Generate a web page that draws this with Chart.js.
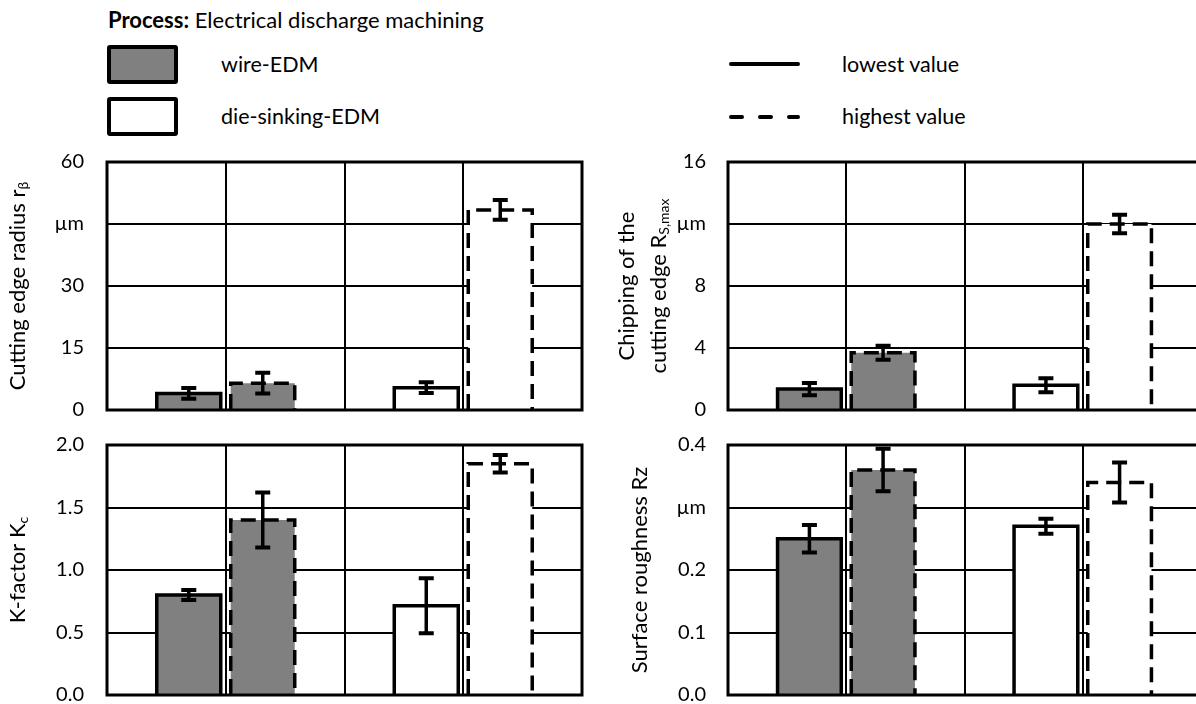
<!DOCTYPE html>
<html>
<head>
<meta charset="utf-8">
<script src="https://cdn.jsdelivr.net/npm/chart.js@4.4.0/dist/chart.umd.min.js"></script>
<style>
  html, body { margin: 0; padding: 0; background: #fff; overflow: hidden; width: 1196px; height: 704px; }
  body { position: relative; font-family: Lato, 'Open Sans', sans-serif; color: #000; }
  canvas { position: absolute; }
  .txt { position: absolute; font-size: 21.5px; line-height: 1; white-space: nowrap; transform: translateY(-50%); }
  .box { position: absolute; left: 107px; width: 63px; height: 31px; border: 4px solid #000; border-radius: 3px; }
  .swatch { position: absolute; left: 725px; }
</style>
</head>
<body>

<div class="txt" style="left:108px; top:20px; font-size:22px;"><b>Process:</b> Electrical discharge machining</div>

<div class="box" style="top:45px; background:#808080;"></div>
<div class="txt" style="left:221px; top:65px;">wire-EDM</div>
<div class="box" style="top:97px; background:#fff;"></div>
<div class="txt" style="left:221px; top:117px;">die-sinking-EDM</div>

<svg class="swatch" style="top:56px;" width="80" height="16">
  <line x1="6" y1="8" x2="73" y2="8" stroke="#000" stroke-width="4" stroke-linecap="round"/>
</svg>
<div class="txt" style="left:842px; top:65px;">lowest value</div>
<svg class="swatch" style="top:109px;" width="80" height="16">
  <line x1="6" y1="8" x2="73" y2="8" stroke="#000" stroke-width="4" stroke-linecap="round" stroke-dasharray="11 18"/>
</svg>
<div class="txt" style="left:842px; top:117px;">highest value</div>

<canvas id="radiusChart" width="600" height="290" style="left:0; top:140px;"></canvas>
<canvas id="chippingChart" width="620" height="290" style="left:600px; top:140px;"></canvas>
<canvas id="kfactorChart" width="600" height="290" style="left:0; top:425px;"></canvas>
<canvas id="roughnessChart" width="620" height="290" style="left:600px; top:425px;"></canvas>

<script>
// ---- data ----
const groups = ['wire-EDM', 'die-sinking-EDM'];
const seriesNames = ['lowest value', 'highest value'];
const groupFill = ['#808080', '#ffffff'];

// cutting edge radius r_beta (µm)
const radiusLowest = [4.0, 5.4];
const radiusHighest = [6.5, 48.4];
const radiusLowestErr = [1.3, 1.3];
const radiusHighestErr = [2.5, 2.4];
const radiusTicks = ['0', '15', '30', 'µm', '60'];

// chipping of the cutting edge R_S,max (µm)
const chippingLowest = [1.35, 1.6];
const chippingHighest = [3.7, 12.0];
const chippingLowestErr = [0.4, 0.45];
const chippingHighestErr = [0.45, 0.6];
const chippingTicks = ['0', '4', '8', 'µm', '16'];

// K-factor K_c
const kLowest = [0.80, 0.715];
const kHighest = [1.40, 1.85];
const kLowestErr = [0.04, 0.22];
const kHighestErr = [0.22, 0.07];
const kTicks = ['0.0', '0.5', '1.0', '1.5', '2.0'];

// surface roughness Rz (µm)
const rzLowest = [0.25, 0.27];
const rzHighest = [0.36, 0.34];
const rzLowestErr = [0.022, 0.012];
const rzHighestErr = [0.034, 0.032];
const rzTicks = ['0.0', '0.1', '0.2', 'µm', '0.4'];

Chart.defaults.font.family = 'Lato, "Open Sans", sans-serif';
Chart.defaults.font.size = 20;
Chart.defaults.color = '#000';

// outlines (solid / dashed), error bars, frame and y title with subscripts
const panelDeco = {
  id: 'panelDeco',
  afterDatasetsDraw(chart) {
    const ctx = chart.ctx;
    const yScale = chart.scales.y;
    chart.data.datasets.forEach((ds, di) => {
      chart.getDatasetMeta(di).data.forEach((bar, i) => {
        const p = bar.getProps(['x', 'y', 'base', 'width'], true);
        const l = p.x - p.width / 2, r = p.x + p.width / 2;
        ctx.save();
        ctx.strokeStyle = '#000';
        ctx.lineWidth = 3.5;
        ctx.setLineDash(ds.dash);
        ctx.beginPath();
        ctx.moveTo(l, p.base);
        ctx.lineTo(l, p.y);
        ctx.lineTo(r, p.y);
        ctx.lineTo(r, p.base);
        ctx.stroke();

        // error bar
        ctx.setLineDash([]);
        const v = ds.data[i], e = ds.errors[i];
        const yt = yScale.getPixelForValue(v + e);
        const yb = yScale.getPixelForValue(v - e);
        ctx.lineWidth = 3.5;
        ctx.beginPath();
        ctx.moveTo(p.x, yt); ctx.lineTo(p.x, yb);
        ctx.stroke();
        ctx.lineWidth = 4;
        ctx.beginPath();
        ctx.moveTo(p.x - 7.5, yt); ctx.lineTo(p.x + 7.5, yt);
        ctx.moveTo(p.x - 7.5, yb); ctx.lineTo(p.x + 7.5, yb);
        ctx.stroke();
        ctx.restore();
      });
    });
  },
  afterDraw(chart, args, opts) {
    const ctx = chart.ctx;
    const a = chart.chartArea;
    ctx.save();
    ctx.strokeStyle = '#000';
    ctx.lineWidth = 3;
    ctx.strokeRect(a.left, a.top, a.right - a.left, a.bottom - a.top);

    // rotated y title
    const cy = (a.top + a.bottom) / 2;
    const fam = Chart.defaults.font.family;
    opts.lines.forEach((segs, li) => {
      ctx.save();
      ctx.translate(opts.x[li], cy);
      ctx.rotate(-Math.PI / 2);
      ctx.textBaseline = 'middle';
      ctx.textAlign = 'left';
      ctx.fillStyle = '#000';
      let total = 0;
      segs.forEach(s => {
        ctx.font = (s.sub ? 14 : 22) + 'px ' + fam;
        total += ctx.measureText(s.t).width;
      });
      let cx = -total / 2;
      segs.forEach(s => {
        ctx.font = (s.sub ? 14 : 22) + 'px ' + fam;
        ctx.fillText(s.t, cx, s.sub ? 5 : 0);
        cx += ctx.measureText(s.t).width;
      });
      ctx.restore();
    });
    ctx.restore();
  }
};

function buildPanel(id, p) {
  const ctx = document.getElementById(id).getContext('2d');
  const gridStyle = { color: '#000', lineWidth: 2, drawTicks: false };
  return new Chart(ctx, {
    type: 'bar',
    data: {
      labels: groups,
      datasets: [
        { label: seriesNames[0], data: p.lowest, errors: p.lowestErr, dash: [],
          backgroundColor: groupFill, borderWidth: 0, categoryPercentage: 0.623, barPercentage: 0.865 },
        { label: seriesNames[1], data: p.highest, errors: p.highestErr, dash: [15, 8],
          backgroundColor: groupFill, borderWidth: 0, categoryPercentage: 0.623, barPercentage: 0.865 }
      ]
    },
    options: {
      responsive: false,
      animation: false,
      layout: { padding: { top: p.padTop, right: p.padRight, bottom: 20, left: 0 } },
      plugins: {
        legend: { display: false },
        tooltip: { enabled: false },
        panelDeco: { lines: p.title, x: p.titleX }
      },
      scales: {
        x: {
          type: 'category',
          offset: true,
          grid: { ...gridStyle, offset: true },
          border: { display: false },
          ticks: { display: false },
          afterFit: s => { s.height = 0; }
        },
        x2: {
          type: 'category',
          labels: groups,
          position: 'bottom',
          offset: true,
          grid: { ...gridStyle, offset: false },
          border: { display: false },
          ticks: { display: false },
          afterFit: s => { s.height = 0; }
        },
        y: {
          min: 0,
          max: p.max,
          // transparent tick marks give the gap between labels and frame
          grid: { color: '#000', lineWidth: 2, drawTicks: true, tickLength: p.tickGap, tickColor: 'rgba(0,0,0,0)' },
          border: { display: false },
          ticks: {
            stepSize: p.step,
            padding: 0,
            callback: (v, i) => p.ticks[i]
          },
          afterFit: s => { s.width = p.axisWidth; }
        }
      }
    },
    plugins: [panelDeco]
  });
}

buildPanel('radiusChart', {
  lowest: radiusLowest, highest: radiusHighest,
  lowestErr: radiusLowestErr, highestErr: radiusHighestErr,
  max: 60, step: 15, ticks: radiusTicks,
  axisWidth: 107, tickGap: 23, padTop: 22, padRight: 18,
  title: [[{ t: 'Cutting edge radius r' }, { t: 'β', sub: true }]],
  titleX: [18]
});

buildPanel('chippingChart', {
  lowest: chippingLowest, highest: chippingHighest,
  lowestErr: chippingLowestErr, highestErr: chippingHighestErr,
  max: 16, step: 4, ticks: chippingTicks,
  axisWidth: 128, tickGap: 22, padTop: 22, padRight: 19,
  title: [[{ t: 'Chipping of the' }], [{ t: 'cutting edge R' }, { t: 'S,max', sub: true }]],
  titleX: [27, 59]
});

buildPanel('kfactorChart', {
  lowest: kLowest, highest: kHighest,
  lowestErr: kLowestErr, highestErr: kHighestErr,
  max: 2.0, step: 0.5, ticks: kTicks,
  axisWidth: 107, tickGap: 23, padTop: 20, padRight: 18,
  title: [[{ t: 'K-factor K' }, { t: 'c', sub: true }]],
  titleX: [18]
});

buildPanel('roughnessChart', {
  lowest: rzLowest, highest: rzHighest,
  lowestErr: rzLowestErr, highestErr: rzHighestErr,
  max: 0.4, step: 0.1, ticks: rzTicks,
  axisWidth: 128, tickGap: 22, padTop: 20, padRight: 19,
  title: [[{ t: 'Surface roughness Rz' }]],
  titleX: [40]
});
</script>
</body>
</html>
